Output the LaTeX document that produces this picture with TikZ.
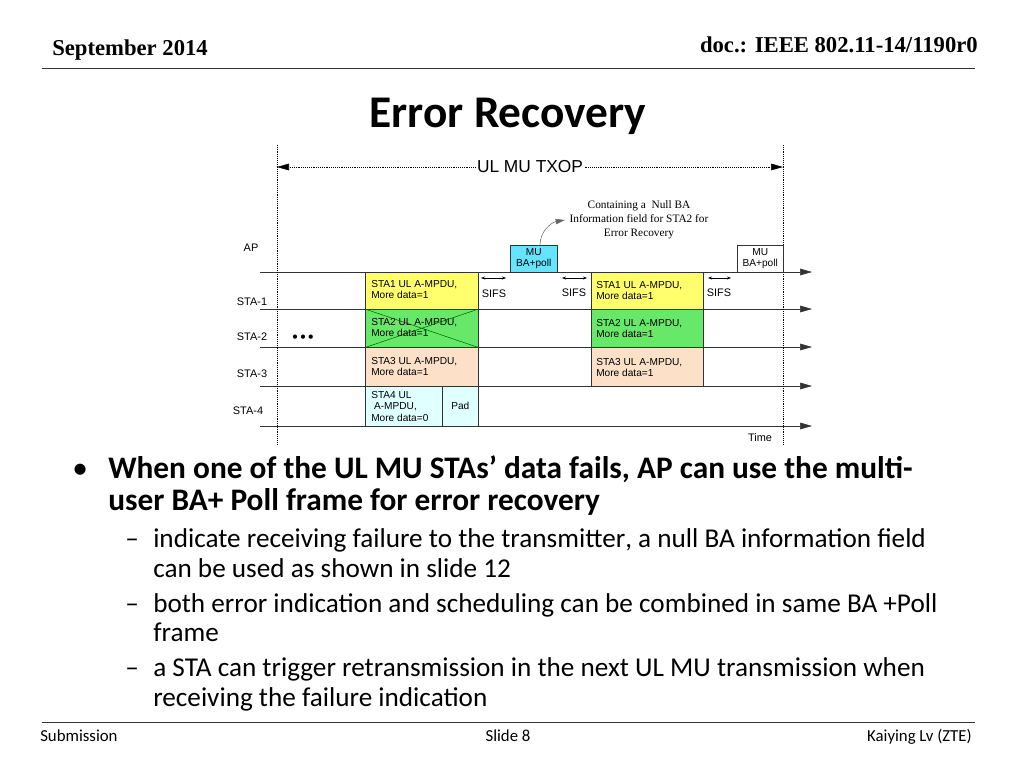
\documentclass[tikz,border=0pt]{standalone}
\usepackage{fontspec}
\setmainfont{Carlito}
\newfontfamily\hdrfont{Liberation Serif}
\newfontfamily\diafont{Liberation Sans}
\usetikzlibrary{positioning,arrows.meta}
\definecolor{frameyellow}{RGB}{255,255,110}
\definecolor{framegreen}{RGB}{104,232,104}
\definecolor{framepeach}{RGB}{252,224,200}
\definecolor{framecyan}{RGB}{224,255,255}
\definecolor{pollcyan}{RGB}{100,228,255}
\tikzset{
	frame/.style={draw=black!80, anchor=north west, inner sep=0pt},
	framelabel/.style={font=\diafont\fontsize{7.6}{8.6}\selectfont, align=left, anchor=north west, inner sep=0pt},
	stalabel/.style={font=\diafont\fontsize{8.2}{9}\selectfont, inner sep=0pt},
	timeline/.style={-{Triangle[length=9pt,width=5pt]}, black!80},
	sifs/.style={{Stealth[length=3pt]}-{Stealth[length=3pt]}, thin},
	bodyline/.style={anchor=base west, inner sep=0pt, font=\fontsize{23.5}{26}\selectfont},
	subline/.style={anchor=base west, inner sep=0pt, font=\fontsize{20.4}{24}\selectfont},
	footer/.style={anchor=base, inner sep=0pt, font=\fontsize{12.6}{14}\selectfont}
}

\begin{document}
\begin{tikzpicture}[x=0.75pt, y=-0.75pt]
	\useasboundingbox (0,0) rectangle (1024,768);

	% header
	\node (date) [anchor=base west, inner sep=0pt, font=\hdrfont\bfseries\fontsize{17}{19}\selectfont] at (52,55) {September 2014};
	\node (doc) [anchor=base east, inner sep=0pt, font=\hdrfont\bfseries\fontsize{17}{19}\selectfont] at (978,52) {doc.: IEEE 802.11-14/1190r0};
	\draw[black!80] (42,68) -- (975,68);
	\node (title) [anchor=base, inner sep=0pt, font=\bfseries\fontsize{34}{40}\selectfont] at (508,127) {Error Recovery};

	% time lines
	\foreach \name/\y in {ap/272, sa/309, sb/347, sc/386, sd/426}{
		\coordinate (\name L) at (260,\y);
		\coordinate (\name R) at (812,\y);
		\draw[timeline] (\name L) -- (\name R);
	}
	\coordinate (txopL) at (277,145);
	\coordinate (txopR) at (783,145);
	\draw[densely dotted] (txopL) -- ++(0,300);
	\draw[densely dotted] (txopR) -- ++(0,300);
	\node (txop) [font=\diafont\fontsize{13}{14}\selectfont, fill=white, inner sep=1pt] at (530,167) {UL MU TXOP};
	\draw[densely dotted, -{Triangle[length=9pt,width=5pt]}] (txop.west) -- (277,167);
	\draw[densely dotted, -{Triangle[length=9pt,width=5pt]}] (txop.east) -- (783,167);

	% station labels
	\node (ap) [stalabel] at (251,248) {AP};
	\node (sta1) [stalabel] at (252,302) {STA-1};
	\node (sta2) [stalabel] at (252,337) {STA-2};
	\node (sta3) [stalabel] at (252,374) {STA-3};
	\node (sta4) [stalabel] at (248,411) {STA-4};
	\node (dots) [inner sep=0pt, font=\fontsize{9}{9}\selectfont] at (303,338) {\textbullet\,\textbullet\,\textbullet};
	\node (time) [stalabel] at (760,438) {Time};

	% first UL MU transmission
	\node (upa) [frame, fill=frameyellow, minimum width=113*0.75pt, minimum height=37*0.75pt] at (365,272) {};
	\node (upb) [frame, fill=framegreen, minimum width=113*0.75pt, minimum height=38*0.75pt] at (365,309) {};
	\draw[black!60!green, thin] (upb.north west) -- (upb.south east) (upb.south west) -- (upb.north east);
	\node (upc) [frame, fill=framepeach, minimum width=113*0.75pt, minimum height=39*0.75pt] at (365,347) {};
	\node (upd) [frame, fill=framecyan, minimum width=77*0.75pt, minimum height=40*0.75pt] at (365,386) {};
	\node (pad) [frame, fill=framecyan, minimum width=36*0.75pt, minimum height=40*0.75pt] at (442,386) {};
	\node [framelabel] at (371,280) {STA1 UL A-MPDU,\\More data=1};
	\node [framelabel] at (371,318) {STA2 UL A-MPDU,\\More data=1};
	\node [framelabel] at (371,357) {STA3 UL A-MPDU,\\More data=1};
	\node [framelabel] at (371,391) {STA4 UL\\\ A-MPDU,\\More data=0};
	\node [framelabel, anchor=center] at (pad.center) {Pad};

	% first MU BA+poll
	\node (polla) [frame, fill=pollcyan, minimum width=47*0.75pt, minimum height=27*0.75pt] at (510,245) {};
	\node [framelabel, anchor=center, align=center] at (polla.center) {MU\\BA+poll};

	% second UL MU transmission
	\node (dna) [frame, fill=frameyellow, minimum width=112*0.75pt, minimum height=37*0.75pt] at (591,272) {};
	\node (dnb) [frame, fill=framegreen, minimum width=112*0.75pt, minimum height=38*0.75pt] at (591,309) {};
	\node (dnc) [frame, fill=framepeach, minimum width=112*0.75pt, minimum height=39*0.75pt] at (591,347) {};
	\node [framelabel] at (596,281) {STA1 UL A-MPDU,\\More data=1};
	\node [framelabel] at (596,319) {STA2 UL A-MPDU,\\More data=1};
	\node [framelabel] at (596,358) {STA3 UL A-MPDU,\\More data=1};

	% second MU BA+poll
	\node (pollb) [frame, fill=white, minimum width=46*0.75pt, minimum height=27*0.75pt] at (737,245) {};
	\node [framelabel, anchor=center, align=center] at (pollb.center) {MU\\BA+poll};

	% SIFS gaps
	\draw[sifs] (481,278) -- (506,278);
	\draw[sifs] (562,278) -- (587,278);
	\draw[sifs] (708,278) -- (731,278);
	\node (sifsa) [stalabel] at (494,294) {SIFS};
	\node (sifsb) [stalabel] at (574,293) {SIFS};
	\node (sifsc) [stalabel] at (719,293) {SIFS};

	% annotation
	\node (note) [font=\hdrfont\fontsize{8.5}{10.5}\selectfont, align=center, inner sep=0pt] at (639,220) {Containing a\ \ Null BA\\Information field for STA2 for\\Error Recovery};
	\draw[black!60, -{Triangle[length=7pt,width=4pt]}] (540,245) to[out=90, in=190] (565,220);

	% bullets
	\node (bul) [anchor=base west, inner sep=0pt, font=\fontsize{23.5}{26}\selectfont] at (72,478) {•};
	\node (b1) [bodyline] at (108,478) {\bfseries When one of the UL MU STAs’ data fails, AP can use the multi-};
	\node (b2) [bodyline] at (108,510) {\bfseries user BA+ Poll frame for error recovery};
	\foreach \y/\dash/\txt in {
		547/1/indicate receiving failure to the transmitter\hbox{,} a null BA information field,
		577/0/can be used as shown in slide 12,
		612/1/both error indication and scheduling can be combined in same BA +Poll,
		641/0/frame,
		676/1/a STA can trigger retransmission in the next UL MU transmission when,
		706/0/receiving the failure indication}{
		\ifnum\dash=1 \node [subline] at (125,\y) {–}; \fi
		\node [subline] at (153,\y) {\txt};
	}

	% footer
	\draw[black!80] (42,722) -- (975,722);
	\node (sub) [footer, anchor=base west] at (40,741) {Submission};
	\node (slide) [footer] at (508,741) {Slide 8};
	\node (author) [footer, anchor=base east] at (972,741) {Kaiying Lv (ZTE)};
\end{tikzpicture}
\end{document}
